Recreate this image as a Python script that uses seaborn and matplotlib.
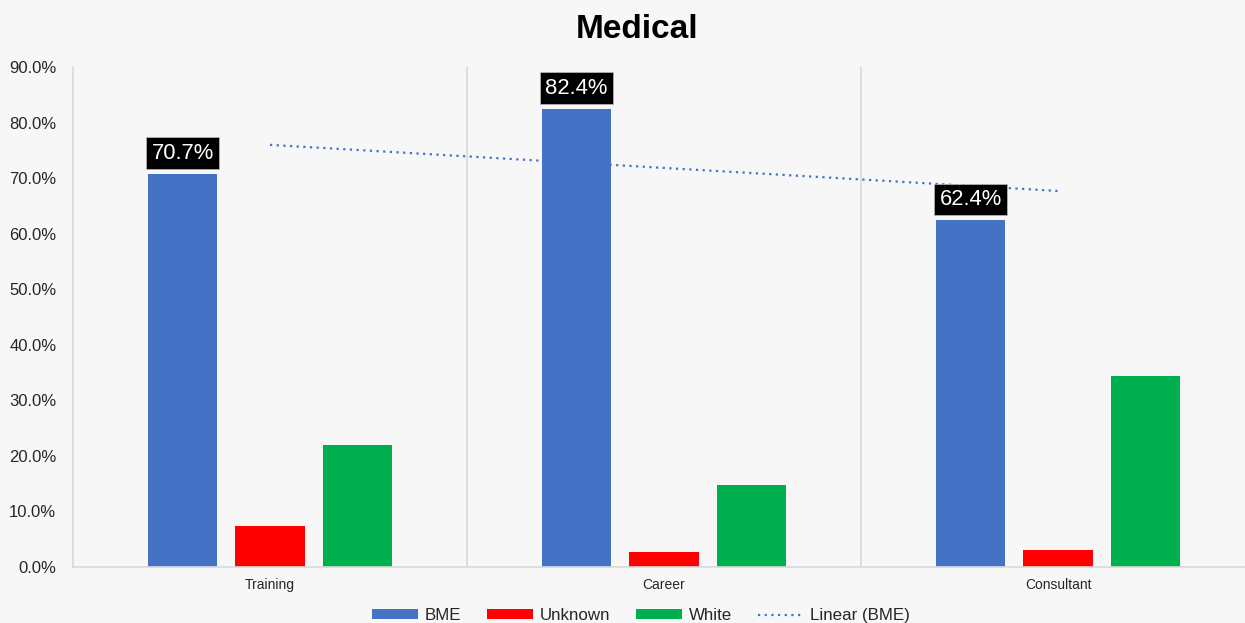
import numpy as np
import pandas as pd
import matplotlib
matplotlib.use("Agg")
import matplotlib.pyplot as plt
import seaborn as sns
from matplotlib.lines import Line2D
from matplotlib.patches import Patch

categories = ["Training", "Career", "Consultant"]
bme = [70.7, 82.4, 62.4]
unknown = [7.4, 2.7, 3.1]
white = [21.9, 14.8, 34.4]
groups = ["BME", "Unknown", "White"]
colors = {"BME": "#4472C4", "Unknown": "#FF0000", "White": "#00B050"}

df = pd.DataFrame({
    "category": categories * 3,
    "group": [g for g in groups for _ in categories],
    "value": bme + unknown + white,
})

sns.set_theme(style="white")
plt.rcParams["font.family"] = ["Liberation Sans", "DejaVu Sans"]

bg = "#F7F7F7"
fig = plt.figure(figsize=(12.45, 6.23), dpi=100, facecolor=bg)
ax = fig.add_axes([73 / 1245, 56 / 623, 1182 / 1245, 500 / 623])
ax.set_facecolor(bg)

sns.barplot(data=df, x="category", y="value", hue="group", order=categories,
            hue_order=groups, palette=colors, width=0.666, gap=0.21,
            saturation=1, ax=ax, legend=False, edgecolor="none")

# Linear trend of the BME share
xs = np.arange(len(categories))
slope, intercept = np.polyfit(xs, bme, 1)
ax.plot(xs, slope * xs + intercept, linestyle=(0, (1, 2)), color="#4472C4",
        linewidth=1.6, zorder=1)

# Value labels on the BME bars
offset = -0.666 / 3
for i, v in enumerate(bme):
    ax.text(i + offset, v + 1.9, f"{v:.1f}%", ha="center", va="bottom",
            fontsize=15.8, color="white",
            bbox=dict(boxstyle="square,pad=0.24", facecolor="black",
                      edgecolor="#BBBBBB", linewidth=0.5), zorder=5)

# Category separators
for x in [0.5, 1.5]:
    ax.axvline(x, color="#D9D9D9", linewidth=1.2, zorder=0)

ax.set_xlim(-0.5, 2.5)
ax.set_ylim(0, 90)
ax.set_yticks(np.arange(0, 91, 10))
ax.set_yticklabels([f"{t:.1f}%" for t in np.arange(0, 91, 10)], fontsize=12,
                   color="#262626")
ax.tick_params(axis="x", labelsize=10, colors="#262626", length=0, pad=8)
ax.tick_params(axis="y", length=0, pad=12)
ax.set_xlabel("")
ax.set_ylabel("")
for side in ["top", "right"]:
    ax.spines[side].set_visible(False)
ax.spines["left"].set_color("#D9D9D9")
ax.spines["bottom"].set_color("#D9D9D9")
ax.spines["left"].set_linewidth(1.2)
ax.spines["bottom"].set_linewidth(1.2)

fig.text(0.512, 0.953, "Medical", ha="center", va="center", fontsize=24,
         fontweight="bold", color="black")

handles = [Patch(facecolor=colors[g], edgecolor="none") for g in groups]
handles.append(Line2D([], [], linestyle=(0, (1, 2)), color="#4472C4", linewidth=1.6))
labels = groups + ["Linear (BME)"]
fig.legend(handles, labels, loc="center", bbox_to_anchor=(0.515, 0.012),
           ncol=4, frameon=False, fontsize=12.2, handlelength=2.7,
           handleheight=0.45, columnspacing=1.55, handletextpad=0.38,
           labelcolor="#262626")

fig.savefig("out.png", dpi=100, facecolor=bg)
